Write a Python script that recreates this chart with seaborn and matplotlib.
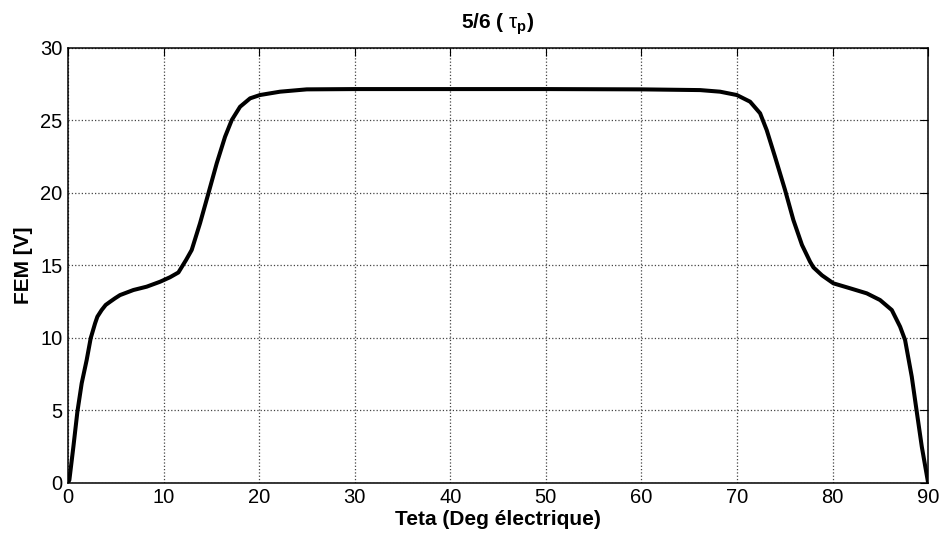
import matplotlib
matplotlib.use("Agg")
import matplotlib.pyplot as plt
import seaborn as sns
import pandas as pd

# EMF waveform over one quarter period (electrical degrees)
teta = [0.0, 0.14, 0.56, 0.98, 1.43, 1.95, 2.37, 2.83, 3.07, 3.52, 3.94, 4.40,
        4.92, 5.44, 6.84, 8.23, 9.63, 10.67, 11.55, 12.35, 12.94, 13.81, 14.69,
        15.56, 16.43, 17.13, 18.0, 19.05, 20.09, 22.19, 24.98, 30.0, 40.0,
        50.0, 60.0, 66.14, 68.23, 69.98, 71.37, 72.42, 73.11, 73.98, 75.03,
        75.90, 76.80, 77.65, 78.0, 78.9, 80.09, 81.83, 83.58, 84.97, 86.20,
        87.07, 87.59, 88.29, 88.81, 89.34, 90.0]
fem = [0.0, 0.19, 2.48, 4.90, 6.86, 8.46, 9.96, 10.99, 11.45, 11.91, 12.26, 12.48,
       12.72, 12.94, 13.29, 13.52, 13.86, 14.17, 14.50, 15.36, 16.05, 17.89, 19.96,
       22.03, 23.86, 25.01, 25.93, 26.51, 26.74, 26.97, 27.13, 27.15, 27.15,
       27.15, 27.13, 27.08, 26.97, 26.74, 26.28, 25.48, 24.32, 22.48, 20.19,
       18.12, 16.40, 15.24, 14.85, 14.30, 13.75, 13.41, 13.06, 12.60, 11.91,
       10.76, 9.84, 7.31, 4.90, 2.48, 0.0]

x_ticks = [0, 10, 20, 30, 40, 50, 60, 70, 80, 90]
y_ticks = [0, 5, 10, 15, 20, 25, 30]

sns.set_theme(style="white")
plt.rcParams["font.family"] = ["Liberation Sans", "DejaVu Sans"]
plt.rcParams["mathtext.fontset"] = "custom"
plt.rcParams["mathtext.rm"] = "Liberation Sans"
plt.rcParams["mathtext.it"] = "Liberation Sans"
plt.rcParams["mathtext.bf"] = "Liberation Sans:bold"

df = pd.DataFrame({"teta": teta, "fem": fem})

fig = plt.figure(figsize=(9.41, 5.33), dpi=100)
ax = fig.add_axes([0.0723, 0.0944, 0.914, 0.816])

sns.lineplot(data=df, x="teta", y="fem", ax=ax, color="black",
             linewidth=2.9, sort=False, estimator=None)

ax.set_xlim(0, 90)
ax.set_ylim(0, 30)
ax.set_xticks(x_ticks)
ax.set_yticks(y_ticks)
ax.grid(True, linestyle=":", color="#444444", linewidth=0.9)
ax.set_axisbelow(True)

for side in ["top", "bottom", "left", "right"]:
    ax.spines[side].set_visible(True)
    ax.spines[side].set_color("black")
    ax.spines[side].set_linewidth(1.1)

ax.tick_params(axis="both", direction="in", length=6, width=0.8, color="black",
               top=True, right=True, labelsize=14.5, labelcolor="black")
ax.tick_params(axis="x", pad=4)
ax.tick_params(axis="y", pad=4)

ax.set_xlabel("Teta (Deg électrique)", fontsize=15, fontweight="bold",
              color="black", labelpad=2)
ax.set_ylabel("FEM [V]", fontsize=15, fontweight="bold", color="black",
              labelpad=5)
ax.set_title(r"5/6 ( $\tau_\mathbf{p}$)", fontsize=15, fontweight="bold",
             color="black", pad=14)

fig.savefig("out.png", dpi=100, facecolor="white")
